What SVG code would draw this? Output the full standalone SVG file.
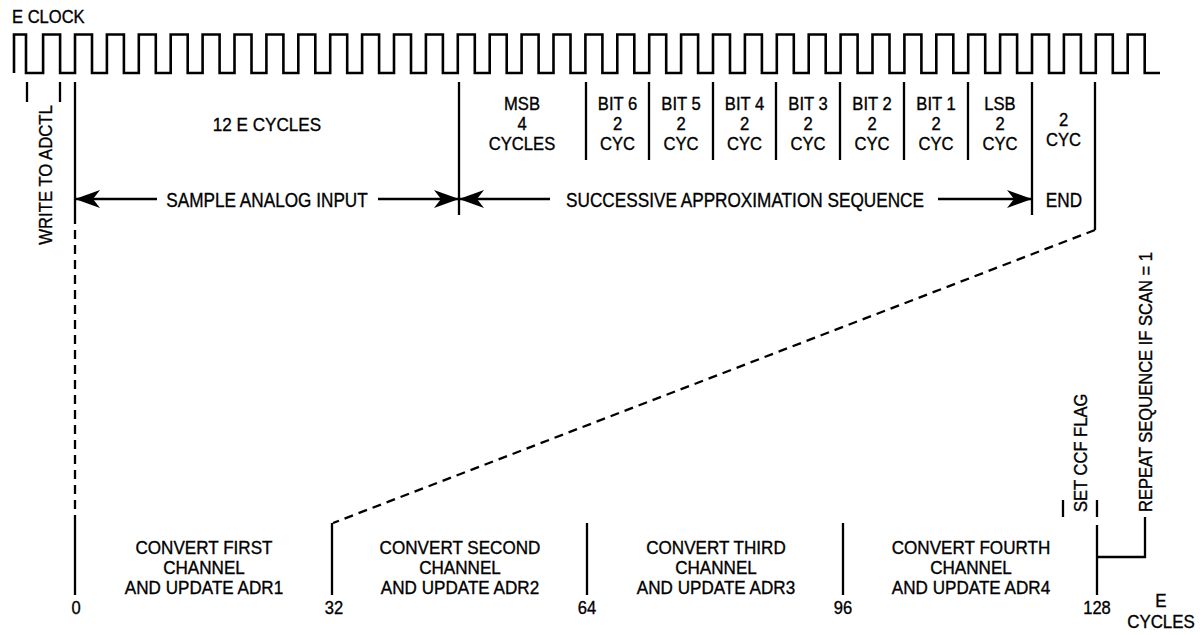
<svg xmlns="http://www.w3.org/2000/svg" width="1203" height="635" viewBox="0 0 1203 635">
<style>
  text{font-family:"Liberation Sans",Arial,Helvetica,sans-serif;fill:#000;stroke:#000;stroke-width:0.35}
  .m{text-anchor:middle}
  .s17{font-size:17.5px}
  .s18{font-size:18px}
  .s19{font-size:19px}
  .s20{font-size:20px}
  .ln{stroke:#000;stroke-width:2.3;fill:none}
  .clk{stroke:#000;stroke-width:2.6;fill:none;stroke-linejoin:miter}
  .dash{stroke-dasharray:9 6}
</style>
<defs>
  <marker id="ah" viewBox="0 0 25 18" refX="24" refY="9" markerWidth="25" markerHeight="18" markerUnits="userSpaceOnUse" orient="auto">
    <path d="M0 0 L25 9 L0 18 L7 9 Z" fill="#000"/>
  </marker>
</defs>
<rect width="1203" height="635" fill="#fff"/>

<g id="e-clock">
  <text class="s18" transform="translate(12 23) scale(0.92 1)">E CLOCK</text>
  <path class="clk" d="M14 73 V34.5 H26 V73 H43.1 V34.5h17V73h14.9 V34.5h17V73h14.9 V34.5h17V73h14.9 V34.5h17V73h14.9 V34.5h17V73h14.9 V34.5h17V73h14.9 V34.5h17V73h14.9 V34.5h17V73h14.9 V34.5h17V73h14.9 V34.5h17V73h14.9 V34.5h17V73h14.9 V34.5h17V73h14.9 V34.5h17V73h14.9 V34.5h17V73h14.9 V34.5h17V73h14.9 V34.5h17V73h14.9 V34.5h17V73h14.9 V34.5h17V73h14.9 V34.5h17V73h14.9 V34.5h17V73h14.9 V34.5h17V73h14.9 V34.5h17V73h14.9 V34.5h17V73h14.9 V34.5h17V73h14.9 V34.5h17V73h14.9 V34.5h17V73h14.9 V34.5h17V73h14.9 V34.5h17V73h14.9 V34.5h17V73h14.9 V34.5h17V73h14.9 V34.5h17V73h14.9 V34.5h17V73h14.9 V34.5h17V73h14.9 V34.5h17V73h14.9 V34.5h17V73H1160"/>
</g>

<g id="write-adctl">
  <path class="ln" d="M27 82 V102 M60 82 V102"/>
  <text class="s19 m" transform="translate(52 175) rotate(-90) scale(0.88 1)">WRITE TO ADCTL</text>
</g>

<g id="dividers">
  <path class="ln" d="M75 82 V215 M459 82 V215 M586 82 V160 M649 82 V160 M713 82 V160 M776 82 V160 M840 82 V160 M904 82 V160 M968 82 V160 M1032 82 V215 M1095 82 V230"/>
  <path class="ln" d="M75 523 V595 M332 523 V595 M587 523 V595 M843 523 V595"/>
</g>

<g id="sample-cycles">
  <text class="s19 m" transform="translate(267 131) scale(0.9 1)">12 E CYCLES</text>
</g>
<g id="msb">
  <text class="s17 m" transform="translate(522 110) scale(0.95 1)"><tspan x="0">MSB</tspan><tspan x="0" dy="20">4</tspan><tspan x="0" dy="20">CYCLES</tspan></text>
</g>
<g id="bit6">
  <text class="s17 m" transform="translate(617.5 110) scale(0.95 1)"><tspan x="0">BIT 6</tspan><tspan x="0" dy="20">2</tspan><tspan x="0" dy="20">CYC</tspan></text>
</g>
<g id="bit5">
  <text class="s17 m" transform="translate(681 110) scale(0.95 1)"><tspan x="0">BIT 5</tspan><tspan x="0" dy="20">2</tspan><tspan x="0" dy="20">CYC</tspan></text>
</g>
<g id="bit4">
  <text class="s17 m" transform="translate(744.5 110) scale(0.95 1)"><tspan x="0">BIT 4</tspan><tspan x="0" dy="20">2</tspan><tspan x="0" dy="20">CYC</tspan></text>
</g>
<g id="bit3">
  <text class="s17 m" transform="translate(808 110) scale(0.95 1)"><tspan x="0">BIT 3</tspan><tspan x="0" dy="20">2</tspan><tspan x="0" dy="20">CYC</tspan></text>
</g>
<g id="bit2">
  <text class="s17 m" transform="translate(872 110) scale(0.95 1)"><tspan x="0">BIT 2</tspan><tspan x="0" dy="20">2</tspan><tspan x="0" dy="20">CYC</tspan></text>
</g>
<g id="bit1">
  <text class="s17 m" transform="translate(936 110) scale(0.95 1)"><tspan x="0">BIT 1</tspan><tspan x="0" dy="20">2</tspan><tspan x="0" dy="20">CYC</tspan></text>
</g>
<g id="lsb">
  <text class="s17 m" transform="translate(1000 110) scale(0.95 1)"><tspan x="0">LSB</tspan><tspan x="0" dy="20">2</tspan><tspan x="0" dy="20">CYC</tspan></text>
</g>
<g id="end-cycles">
  <text class="s17 m" transform="translate(1063.5 126) scale(0.95 1)"><tspan x="0">2</tspan><tspan x="0" dy="20">CYC</tspan></text>
</g>

<g id="sample-analog-input">
  <text class="s20 m" transform="translate(267 207) scale(0.86 1)">SAMPLE ANALOG INPUT</text>
</g>
<g id="successive-approximation">
  <text class="s20 m" transform="translate(745 207) scale(0.86 1)">SUCCESSIVE APPROXIMATION SEQUENCE</text>
</g>
<g id="end">
  <text class="s20 m" transform="translate(1064 207) scale(0.86 1)">END</text>
</g>

<g id="connectors">
  <path class="ln" d="M157 199 H76" marker-end="url(#ah)"/>
  <path class="ln" d="M378 199 H458" marker-end="url(#ah)"/>
  <path class="ln" d="M550 199 H460" marker-end="url(#ah)"/>
  <path class="ln" d="M938 199 H1031" marker-end="url(#ah)"/>
  <path class="ln dash" d="M75 215 V523"/>
  <path class="ln dash" d="M1095 230 L333 523"/>
  <path class="ln" d="M1097 525 V595 M1097 557 H1145 V517"/>
</g>

<g id="convert-first">
  <text class="s18 m" transform="translate(204 554) scale(0.95 1)"><tspan x="0">CONVERT FIRST</tspan><tspan x="0" dy="20">CHANNEL</tspan><tspan x="0" dy="20">AND UPDATE ADR1</tspan></text>
</g>
<g id="convert-second">
  <text class="s18 m" transform="translate(460 554) scale(0.95 1)"><tspan x="0">CONVERT SECOND</tspan><tspan x="0" dy="20">CHANNEL</tspan><tspan x="0" dy="20">AND UPDATE ADR2</tspan></text>
</g>
<g id="convert-third">
  <text class="s18 m" transform="translate(716 554) scale(0.95 1)"><tspan x="0">CONVERT THIRD</tspan><tspan x="0" dy="20">CHANNEL</tspan><tspan x="0" dy="20">AND UPDATE ADR3</tspan></text>
</g>
<g id="convert-fourth">
  <text class="s18 m" transform="translate(971 554) scale(0.95 1)"><tspan x="0">CONVERT FOURTH</tspan><tspan x="0" dy="20">CHANNEL</tspan><tspan x="0" dy="20">AND UPDATE ADR4</tspan></text>
</g>

<g id="axis-labels">
  <text class="s18 m" transform="translate(76 614) scale(0.92 1)">0</text>
  <text class="s18 m" transform="translate(334 614) scale(0.92 1)">32</text>
  <text class="s18 m" transform="translate(587 614) scale(0.92 1)">64</text>
  <text class="s18 m" transform="translate(843 614) scale(0.92 1)">96</text>
  <text class="s18 m" transform="translate(1097 614) scale(0.92 1)">128</text>
  <text class="s18 m" transform="translate(1161 607) scale(0.94 1)"><tspan x="0">E</tspan><tspan x="0" dy="21">CYCLES</tspan></text>
</g>

<g id="set-ccf-flag">
  <path class="ln" d="M1063 500 V517 M1097 500 V517"/>
  <text class="s18" transform="translate(1087 512) rotate(-90) scale(0.92 1)">SET CCF FLAG</text>
</g>
<g id="repeat-sequence">
  <text class="s18" transform="translate(1152 512) rotate(-90) scale(0.92 1)">REPEAT SEQUENCE IF SCAN = 1</text>
</g>
</svg>
